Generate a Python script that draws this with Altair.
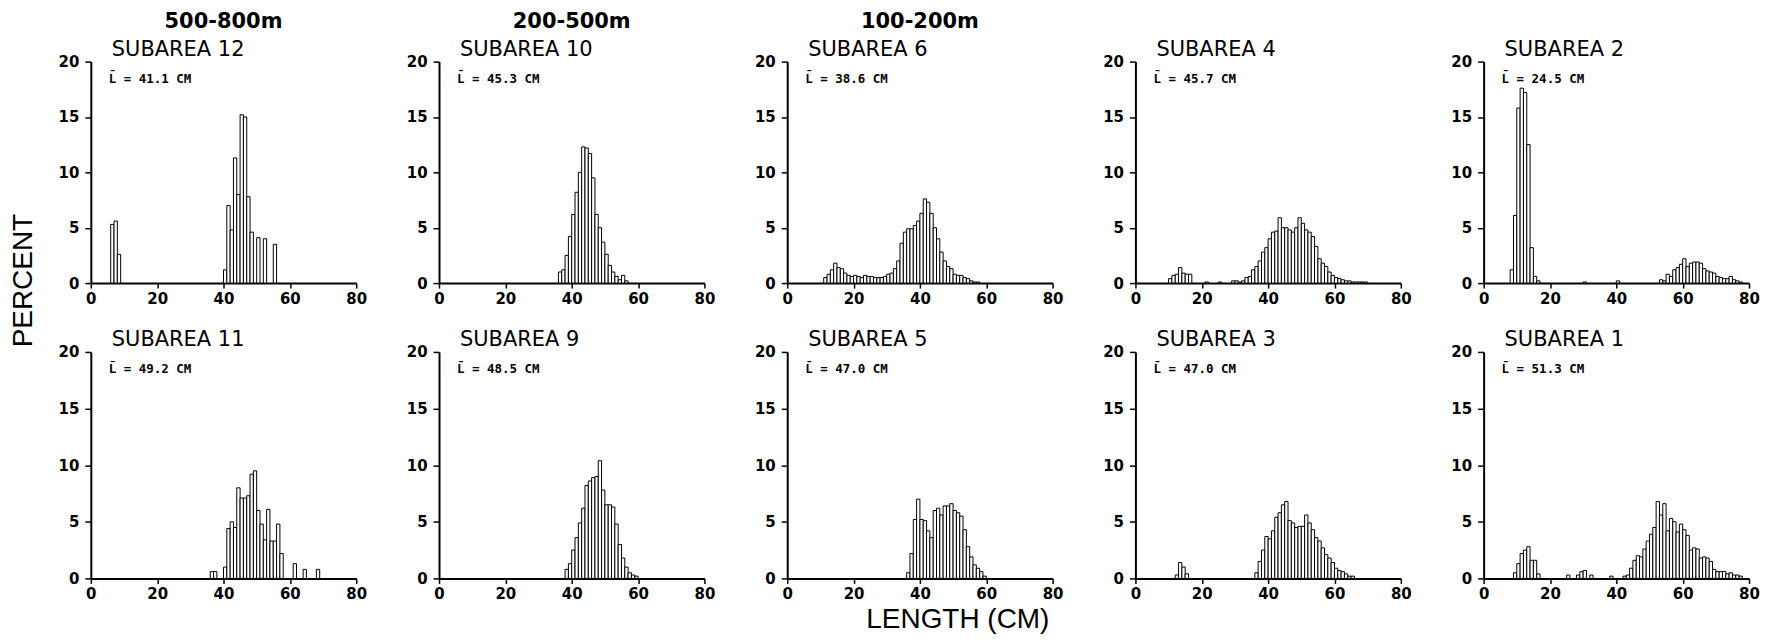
import altair as alt
import pandas as pd

# ---------------- data (percent per 1-cm length class, by left edge of class) ----------------
X_TICKS = [0, 20, 40, 60, 80]
Y_TICKS = [0, 5, 10, 15, 20]
DEPTHS = ["500-800m", "200-500m", "100-200m"]

TOP_NAMES = ["SUBAREA 12", "SUBAREA 10", "SUBAREA 6", "SUBAREA 4", "SUBAREA 2"]
TOP_MEANS = ["41.1", "45.3", "38.6", "45.7", "24.5"]
BOTTOM_NAMES = ["SUBAREA 11", "SUBAREA 9", "SUBAREA 5", "SUBAREA 3", "SUBAREA 1"]
BOTTOM_MEANS = ["49.2", "48.5", "47.0", "47.0", "51.3"]

S12_CM = [6, 7, 8] + list(range(40, 56))
S12_PCT = [5.3, 5.6, 2.6,
           1.2, 7.0, 4.8, 11.3, 8.0, 15.2, 15.0, 7.8, 4.6, 0, 4.1, 0, 4.0, 0, 0, 3.5]

S10_CM = list(range(36, 57))
S10_PCT = [1.0, 1.2, 2.5, 4.2, 6.2, 8.2, 10.0, 12.3, 12.2, 11.7, 9.5, 6.2, 5.0, 3.7,
           2.6, 1.6, 1.0, 0.6, 0.3, 0.7, 0.2]

S6_CM = list(range(11, 58))
S6_PCT = [0.5, 0.8, 1.2, 1.8, 1.4, 1.3, 0.9, 0.7, 0.6,
          0.7, 0.6, 0.5, 0.7, 0.6, 0.6, 0.5, 0.5, 0.5, 0.6,
          0.8, 0.9, 1.3, 2.0, 3.6, 4.6, 4.9, 4.9, 5.2, 5.6,
          6.3, 7.6, 7.3, 6.3, 5.0, 4.0, 2.8, 2.0, 1.5, 1.3,
          0.8, 0.7, 0.7, 0.5, 0.4, 0.2, 0.1, 0.1]

S4_CM = list(range(10, 17)) + [21, 25, 29, 30, 31, 32] + list(range(33, 70))
S4_PCT = [0.4, 0.7, 0.8, 1.4, 0.9, 0.8, 0.8,
          0.1, 0.1, 0.2, 0.2, 0.1, 0.2,
          0.5, 0.6, 1.2, 1.5, 2.0, 2.8, 3.2, 4.0, 4.6, 4.7,
          5.9, 5.0, 5.0, 4.8, 4.6, 5.0, 5.9, 5.4, 4.8, 4.6,
          4.2, 3.3, 2.2, 1.8, 1.5, 1.0, 0.7, 0.5, 0.4, 0.3,
          0.2, 0.2, 0.1, 0.1, 0.1, 0.1, 0.1]

S2_CM = list(range(8, 17)) + [30, 40] + list(range(53, 78))
S2_PCT = [1.2, 6.1, 15.8, 17.6, 17.2, 12.5, 3.2, 0.6, 0.2,
          0.1, 0.2,
          0.3, 0.2, 0.8, 0.6, 1.2, 1.4, 1.7, 2.2, 1.5, 1.8, 1.9, 1.9, 1.8,
          1.3, 1.1, 1.0, 0.9, 0.6, 0.5, 0.4, 0.4, 0.6, 0.3, 0.2, 0.1]

S11_CM = [36, 37] + list(range(40, 58)) + [61, 64, 68]
S11_PCT = [0.6, 0.6,
           1.0, 4.4, 5.0, 4.5, 8.0, 7.1, 7.1, 7.3, 9.2, 9.5, 6.0, 4.8, 3.4, 6.1,
           3.3, 3.3, 4.8, 2.2,
           1.3, 0.8, 0.8]

S9_CM = list(range(38, 60))
S9_PCT = [0.8, 1.3, 2.5, 3.6, 4.9, 6.2, 8.2, 8.6, 8.9, 9.0,
          10.4, 7.8, 6.5, 6.5, 6.3, 4.8, 3.0, 1.8, 1.0, 0.5,
          0.3, 0.2]

S5_CM = list(range(36, 60))
S5_PCT = [0.5, 2.2, 5.2, 7.0, 5.2, 5.1, 4.2, 3.6, 6.0, 6.2, 5.6, 6.4,
          6.4, 6.6, 6.0, 5.8, 5.5, 4.3, 2.8, 1.9, 1.2, 0.9, 0.6, 0.2]

S3_CM = [12, 13, 14, 15] + list(range(36, 66))
S3_PCT = [0.3, 1.4, 1.0, 0.4,
          0.5, 1.5, 2.5, 3.7, 3.5, 4.2, 5.4, 5.8, 6.5, 6.8,
          5.1, 4.9, 4.5, 4.6, 4.6, 5.6, 4.9, 4.3, 3.6, 3.3,
          2.7, 2.1, 1.8, 1.4, 0.9, 0.7, 0.6, 0.4, 0.2, 0.2]

S1_CM = list(range(9, 17)) + [25, 28, 29, 30, 32, 38, 42, 43] + list(range(44, 78))
S1_PCT = [0.5, 1.3, 2.2, 2.5, 2.8, 1.6, 1.6, 0.4,
          0.3, 0.3, 0.6, 0.7, 0.3, 0.2, 0.2, 0.3,
          0.9, 1.6, 2.0, 1.9, 2.6, 3.3, 3.9, 4.5, 6.8, 5.6,
          6.6, 4.2, 5.3, 5.0, 4.1, 4.8, 4.3, 3.8, 2.5, 2.7,
          2.6, 1.8, 1.9, 1.8, 1.5, 0.8, 0.6, 0.6, 0.6, 0.4,
          0.5, 0.3, 0.3, 0.2]

TOP_DATA = [(S12_CM, S12_PCT), (S10_CM, S10_PCT), (S6_CM, S6_PCT), (S4_CM, S4_PCT), (S2_CM, S2_PCT)]
BOTTOM_DATA = [(S11_CM, S11_PCT), (S9_CM, S9_PCT), (S5_CM, S5_PCT), (S3_CM, S3_PCT), (S1_CM, S1_PCT)]

# ---------------- layout / style ----------------
W = 266
H_TOP = 222
H_BOT = 227
FONT = "DejaVu Sans"
MONO = "DejaVu Sans Mono"
BIG = "Liberation Sans"

x_axis = alt.Axis(values=X_TICKS, format="d", labelFont=FONT, labelFontSize=15,
                  labelFontWeight="bold", labelColor="black", labelPadding=3,
                  labelFlush=False, labelOverlap=False, tickSize=5, tickWidth=1.5,
                  tickColor="black", domainColor="black", domainWidth=2, grid=False,
                  title=None)
y_axis = alt.Axis(values=Y_TICKS, format="d", labelFont=FONT, labelFontSize=15,
                  labelFontWeight="bold", labelColor="black", labelPadding=6,
                  labelFlush=False, labelOverlap=False, tickSize=6, tickWidth=1.5,
                  tickColor="black", domainColor="black", domainWidth=2, grid=False,
                  title=None)


def text_layer(text, x, y, **kw):
    return alt.Chart(pd.DataFrame({"t": [text]})).mark_text(color="black", **kw).encode(
        text="t:N", x=alt.value(x), y=alt.value(y))


def make_panel(name, mean, cm, pct, height, depth=None, percent=False, length=False):
    df = pd.DataFrame({"cm": cm, "pct": pct})
    df = df[df["pct"] > 0].copy()
    df["cm2"] = df["cm"] + 1
    bars = alt.Chart(df).mark_rect(fill="white", stroke="black", strokeWidth=1).encode(
        x=alt.X("cm:Q", scale=alt.Scale(domain=[0, 80], nice=False), axis=x_axis),
        x2="cm2",
        y=alt.Y("pct:Q", scale=alt.Scale(domain=[0, 20], nice=False), axis=y_axis),
        y2=alt.datum(0),
    )
    layers = [
        bars,
        text_layer(name, 21, -12, font=FONT, fontSize=21, align="left", baseline="middle"),
        text_layer("L\u0304  =  " + mean + "  CM", 18, 17, font=MONO, fontSize=12.5,
                   fontWeight="bold", align="left", baseline="middle"),
    ]
    if depth:
        layers.append(text_layer(depth, W / 2, -40, font=FONT, fontSize=21, fontWeight="bold",
                                 align="center", baseline="middle"))
    if percent:
        layers.append(text_layer("PERCENT", -66.5, 219.5, font=BIG, fontSize=28, angle=270,
                                 align="center", baseline="middle"))
    if length:
        layers.append(text_layer("LENGTH (CM)", 171, 269, font=BIG, fontSize=28,
                                 align="center", baseline="middle"))
    return alt.layer(*layers).properties(width=W, height=height)


panels = []
for i, (name, mean, (cm, pct)) in enumerate(zip(TOP_NAMES, TOP_MEANS, TOP_DATA)):
    panels.append(make_panel(name, mean, cm, pct, H_TOP,
                             depth=DEPTHS[i] if i < len(DEPTHS) else None,
                             percent=(i == 0)))
for i, (name, mean, (cm, pct)) in enumerate(zip(BOTTOM_NAMES, BOTTOM_MEANS, BOTTOM_DATA)):
    panels.append(make_panel(name, mean, cm, pct, H_BOT, length=(i == 2)))

chart = alt.concat(*panels, columns=5, spacing={"row": 69, "column": 83}, bounds="flush").properties(
    padding={"left": 2, "top": 2, "right": 0, "bottom": 0}, background="white"
).configure_view(stroke=None)

chart.save("out.html", embed_options={"renderer": "svg", "actions": False})
